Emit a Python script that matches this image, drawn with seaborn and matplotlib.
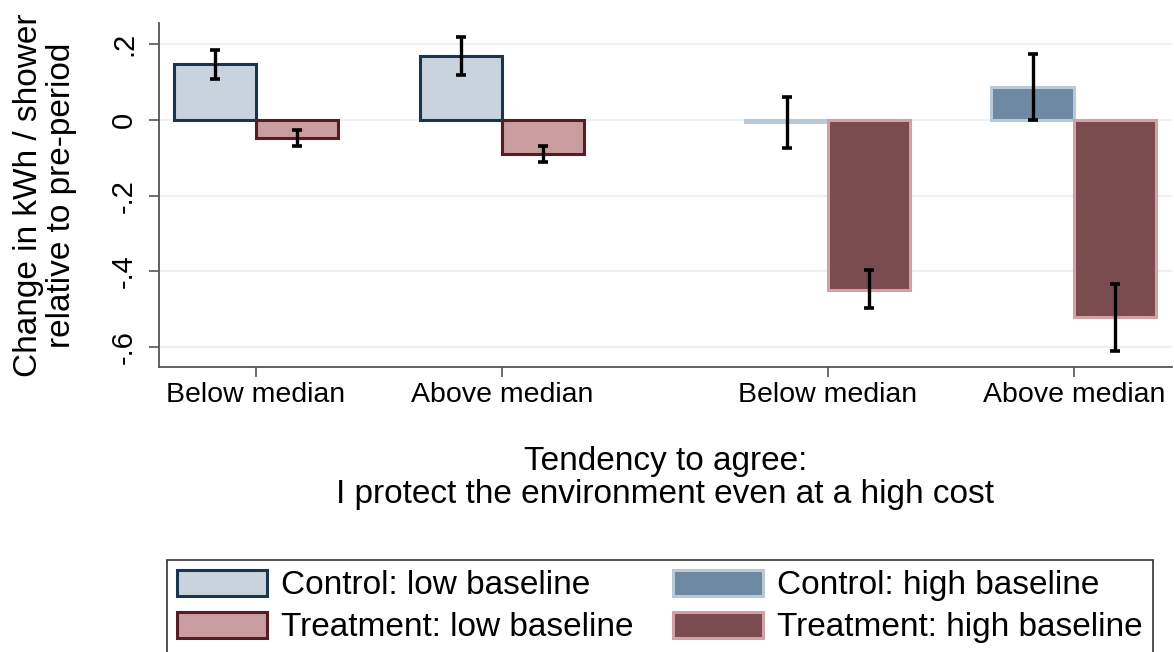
import numpy as np
import pandas as pd
import matplotlib
matplotlib.use("Agg")
import matplotlib.pyplot as plt
import seaborn as sns

# ---- data -------------------------------------------------------------
categories = ["Below median", "Above median", "Below median", "Above median"]
baseline = ["low", "low", "high", "high"]

control_mean = [0.148, 0.169, -0.005, 0.088]
control_lo = [0.109, 0.119, -0.073, 0.000]
control_hi = [0.185, 0.218, 0.060, 0.174]

treat_mean = [-0.049, -0.091, -0.449, -0.522]
treat_lo = [-0.070, -0.110, -0.498, -0.612]
treat_hi = [-0.026, -0.069, -0.397, -0.433]

y_ticks = [0.2, 0.0, -0.2, -0.4, -0.6]
y_ticklabels = [".2", "0", "-.2", "-.4", "-.6"]

series_labels = {
    ("Control", "low"): "Control: low baseline",
    ("Treatment", "low"): "Treatment: low baseline",
    ("Control", "high"): "Control: high baseline",
    ("Treatment", "high"): "Treatment: high baseline",
}

# ---- layout -----------------------------------------------------------
bar_w = 0.335          # width of one bar in group units
block_gap = 0.325      # extra space between the low and high baseline blocks
group_pos = np.arange(len(categories)) + np.where(np.array(baseline) == "high", block_gap, 0.0)

rows = []
for i, cat in enumerate(categories):
    for arm, mean, lo, hi, off in (
        ("Control", control_mean[i], control_lo[i], control_hi[i], -bar_w / 2),
        ("Treatment", treat_mean[i], treat_lo[i], treat_hi[i], bar_w / 2),
    ):
        rows.append(dict(x=group_pos[i] + off, value=mean, lo=lo, hi=hi,
                         series=series_labels[(arm, baseline[i])]))
df = pd.DataFrame(rows)

order = ["Control: low baseline", "Treatment: low baseline",
         "Control: high baseline", "Treatment: high baseline"]
fill = {
    "Control: low baseline": "#C9D3DD",
    "Treatment: low baseline": "#C99C9F",
    "Control: high baseline": "#6D89A3",
    "Treatment: high baseline": "#7A4C50",
}
edge = {
    "Control: low baseline": "#1A3550",
    "Treatment: low baseline": "#561E23",
    "Control: high baseline": "#B9C9D6",
    "Treatment: high baseline": "#D3A0A5",
}

# ---- style ------------------------------------------------------------
sns.set_theme(style="white")
plt.rcParams["font.family"] = ["Liberation Sans", "DejaVu Sans"]
plt.rcParams.update({
    "text.color": "black",
    "axes.labelcolor": "black",
    "xtick.labelcolor": "black",
    "ytick.labelcolor": "black",
})

fig = plt.figure(figsize=(11.74, 6.52), dpi=100)
ax = fig.add_axes([159 / 1174, 1 - 367 / 652, (1172 - 159) / 1174, (367 - 23) / 652])

sns.barplot(data=df, x="x", y="value", hue="series", hue_order=order,
            palette=fill, saturation=1, native_scale=True, dodge=False,
            width=1.0, errorbar=None, legend=False, ax=ax, zorder=2)

for cont, name in zip(ax.containers, order):
    for patch in cont:
        patch.set_edgecolor(edge[name])
        patch.set_linewidth(2.2)
        patch.set_label(name)

ax.errorbar(df["x"], df["value"],
            yerr=[df["value"] - df["lo"], df["hi"] - df["value"]],
            fmt="none", ecolor="black", elinewidth=2.4, capsize=3.9,
            capthick=2.6, zorder=3)

ax.set_xlim(-0.394, 3.724)
ax.set_ylim(-0.653, 0.256)

ax.set_yticks(y_ticks)
ax.set_yticklabels(y_ticklabels, rotation=90, va="center", fontsize=21)
ax.set_xticks(group_pos)
ax.set_xticklabels(categories, fontsize=20.5)
ax.tick_params(axis="y", which="major", left=True, length=7, width=1.2,
               color="#555555", pad=8)
ax.tick_params(axis="x", which="major", bottom=True, length=7, width=1.2,
               color="#555555", pad=4)

ax.set_axisbelow(True)
ax.yaxis.grid(True, color="#EAF2F3", linewidth=1.6)
ax.xaxis.grid(False)

for side in ("top", "right"):
    ax.spines[side].set_visible(False)
for side in ("left", "bottom"):
    ax.spines[side].set_color("#555555")
    ax.spines[side].set_linewidth(1.3)

ax.set_ylabel("Change in kWh / shower\nrelative to pre-period",
              fontsize=24, linespacing=1.08, labelpad=24)
ax.set_xlabel("Tendency to agree:\nI protect the environment even at a high cost",
              fontsize=24, linespacing=1.1, labelpad=27)

handles = [ax.containers[order.index(n)][0] for n in order]
leg = fig.legend(handles, order, loc="upper left",
                 bbox_to_anchor=(166.7 / 1174, 1 - 560 / 652),
                 ncol=2, fontsize=24, frameon=True, fancybox=False,
                 borderaxespad=0, borderpad=0.3, handlelength=2.7,
                 handleheight=0.8, handletextpad=0.42, columnspacing=1.2,
                 labelspacing=0.32)
leg.get_frame().set_edgecolor("black")
leg.get_frame().set_linewidth(1.2)

fig.savefig("out.png", dpi=100)
